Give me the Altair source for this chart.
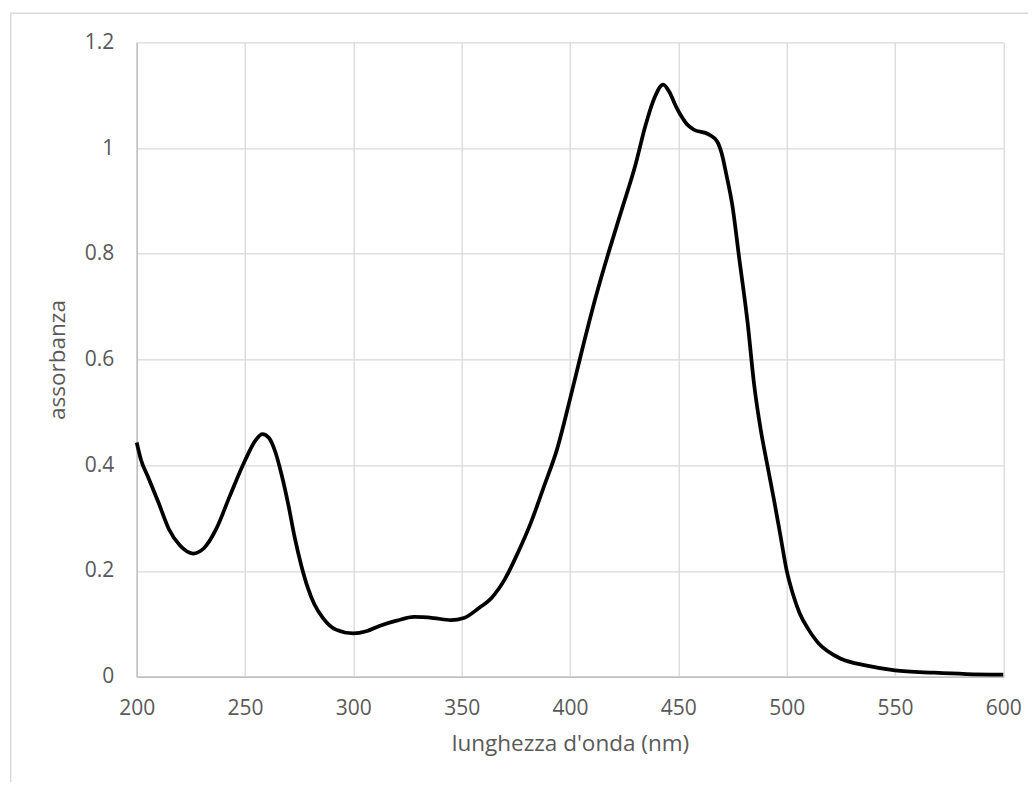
import altair as alt
import pandas as pd

wavelength = [200, 202, 205, 210, 215, 220, 226, 231, 237, 243, 250, 255, 258, 261, 264,
              267, 270, 273, 276, 279, 282, 286, 292, 300, 306, 312, 320, 328, 337,
              345, 351, 358, 364, 370, 376, 382, 388, 394, 400, 406, 412, 418,
              424, 430, 435, 439, 443, 446, 449, 451, 454, 457, 464, 468, 470, 472,
              475, 478, 482, 485, 488, 491, 494, 497, 500, 503, 506, 510, 515, 519,
              525, 537, 550, 568, 583, 600]
absorbance = [0.443, 0.41, 0.38, 0.33, 0.278, 0.248, 0.233, 0.243, 0.282, 0.342, 0.409,
              0.448, 0.459, 0.452, 0.425, 0.38, 0.325, 0.262, 0.21, 0.168, 0.137,
              0.111, 0.089, 0.082, 0.086, 0.096, 0.106, 0.113, 0.111, 0.107, 0.111, 0.130,
              0.15, 0.185, 0.235, 0.292, 0.36, 0.43, 0.525, 0.625, 0.72, 0.805,
              0.885, 0.965, 1.045, 1.095, 1.12, 1.105, 1.078, 1.063, 1.045,
              1.035, 1.026, 1.012, 0.99, 0.953, 0.89, 0.795, 0.669, 0.552, 0.468, 0.402,
              0.338, 0.27, 0.201, 0.155, 0.12, 0.09, 0.062, 0.048, 0.034, 0.021, 0.012,
              0.0075, 0.005, 0.004]

x_ticks = [200, 250, 300, 350, 400, 450, 500, 550, 600]
y_ticks = [0, 0.2, 0.4, 0.6, 0.8, 1.0, 1.2]

df = pd.DataFrame({"wl": wavelength, "abs": absorbance})

W, H = 866.6, 634.4
FONT = "Open Sans"
TXT = "#595959"

border = alt.Chart(pd.DataFrame({"a": [0]})).mark_rect(
    filled=False, stroke="#d9d9d9", strokeWidth=1.5
).encode(
    x=alt.value(-126), y=alt.value(-29), x2=alt.value(W + 60), y2=alt.value(H + 160)
)

line = alt.Chart(df).mark_line(
    color="black", strokeWidth=3.75, interpolate="monotone"
).encode(
    x=alt.X("wl:Q", title="lunghezza d'onda (nm)",
            scale=alt.Scale(domain=[200, 600], nice=False, zero=False),
            axis=alt.Axis(values=x_ticks, format="d", labelFontSize=21, titleFontSize=22.5,
                          labelPadding=21, titlePadding=14, ticks=False,
                          labelFlush=False, labelOverlap=False,
                          domainColor="#bfbfbf", domainWidth=1.5,
                          gridColor="#d9d9d9", gridWidth=1.3)),
    y=alt.Y("abs:Q", title="assorbanza",
            scale=alt.Scale(domain=[0, 1.2], nice=False),
            axis=alt.Axis(values=y_ticks, format="~g", labelFontSize=21, titleFontSize=22.5,
                          labelPadding=23, titlePadding=15, ticks=False,
                          labelFlush=False, labelOverlap=False,
                          domainColor="#bfbfbf", domainWidth=1.5,
                          gridColor="#d9d9d9", gridWidth=1.3)),
)

chart = alt.layer(border, line).properties(
    width=W, height=H,
    autosize=alt.AutoSizeParams(type="none"),
    padding={"left": 128.7, "top": 34.3, "right": 24.7, "bottom": 105.3},
).configure_view(stroke=None).configure_axis(
    labelFont=FONT, titleFont=FONT, labelColor=TXT, titleColor=TXT,
    titleFontWeight="normal",
)

chart.save("out.html", embed_options={"renderer": "svg", "actions": False})
